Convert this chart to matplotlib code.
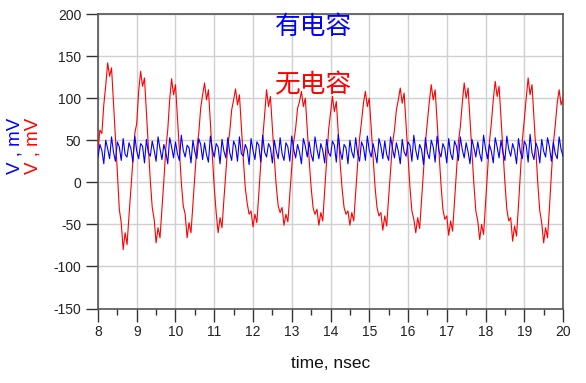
import matplotlib
matplotlib.use('Agg')
import matplotlib.pyplot as plt
import numpy as np

# time grid (nsec), one sample every 0.05 ns
T_START, T_STOP = 8.0, 20.0

# red trace: without capacitor (mV)
v_no_cap = [
    38, 62, 58, 92, 115, 142, 126, 136, 95, 55,
    12, -32, -48, -80, -60, -74, -40, -8, 25, 58,
    70, 108, 132, 114, 124, 82, 42, 2, -30, -44,
    -72, -54, -66, -32, 2, 40, 62, 98, 123, 104,
    116, 78, 38, 0, -28, -38, -66, -48, -60, -26,
    8, 42, 58, 88, 104, 118, 98, 110, 70, 32,
    -6, -36, -60, -42, -54, -20, 12, 44, 60, 86,
    98, 111, 92, 104, 66, 28, -6, -25, -38, -34,
    -53, -38, -48, -14, 22, 52, 80, 110, 90, 102,
    64, 28, -4, -28, -36, -30, -51, -38, -47, -14,
    18, 48, 64, 88, 96, 108, 90, 100, 62, 26,
    -6, -30, -38, -32, -51, -36, -46, -10, 28, 62,
    82, 102, 84, 96, 58, 22, -8, -30, -38, -34,
    -51, -36, -46, -12, 22, 52, 72, 94, 108, 90,
    100, 64, 28, -6, -30, -40, -36, -57, -40, -52,
    -18, 14, 46, 62, 86, 98, 112, 94, 106, 68,
    30, -6, -34, -44, -60, -42, -55, -20, 14, 48,
    72, 96, 116, 98, 110, 72, 34, -2, -32, -44,
    -40, -63, -46, -58, -22, 14, 48, 66, 94, 118,
    100, 112, 74, 36, -2, -34, -46, -68, -50, -62,
    -26, 12, 48, 70, 98, 120, 102, 114, 76, 38,
    0, -32, -46, -42, -70, -52, -64, -28, 12, 50,
    74, 100, 124, 104, 116, 76, 36, -2, -34, -48,
    -72, -54, -66, -30, 10, 46, 68, 94, 110, 92,
    100,
]

# blue trace: with capacitor (mV)
v_cap = [
    30, 45, 38, 22, 50, 40, 28, 54, 36, 25,
    48, 42, 26, 52, 33, 30, 47, 40, 24, 55,
    37, 28, 46, 43, 23, 51, 35, 31, 49, 38,
    25, 54, 40, 27, 45, 36, 22, 53, 42, 29,
    48, 34, 26, 56, 38, 30, 44, 41, 23, 50,
    36, 28, 52, 45, 27, 47, 33, 24, 55, 39,
    30, 46, 42, 22, 51, 37, 29, 53, 35, 26,
    49, 43, 25, 54, 34, 31, 45, 39, 21, 52,
    38, 27, 48, 44, 24, 56, 36, 30, 46, 41,
    23, 50, 37, 28, 53, 34, 26, 47, 42, 25,
    55, 39, 29, 45, 36, 22, 52, 43, 30, 48,
    33, 25, 54, 40, 28, 46, 38, 23, 51, 35,
    31, 49, 44, 24, 57, 37, 27, 45, 41, 22,
    50, 36, 29, 53, 34, 25, 48, 42, 26, 55,
    38, 30, 46, 35, 23, 52, 43, 28, 49, 33,
    26, 54, 40, 29, 47, 37, 22, 51, 36, 31,
    48, 44, 25, 56, 38, 27, 45, 39, 21, 53,
    35, 28, 50, 42, 24, 55, 37, 30, 46, 40,
    23, 52, 34, 27, 49, 43, 26, 54, 39, 29,
    47, 36, 22, 51, 41, 30, 48, 34, 25, 56,
    40, 28, 45, 37, 23, 53, 42, 29, 50, 35,
    26, 55, 39, 31, 46, 38, 22, 52, 36, 28,
    49, 44, 24, 57, 35, 27, 47, 40, 23, 51,
    37, 30, 53, 42, 25, 48, 34, 28, 54, 39,
    31,
]

x_ticks = [8, 9, 10, 11, 12, 13, 14, 15, 16, 17, 18, 19, 20]
y_ticks = [-150, -100, -50, 0, 50, 100, 150, 200]

plt.rcParams['font.family'] = ['Liberation Sans', 'DejaVu Sans']
plt.rcParams['axes.unicode_minus'] = False
CJK = ['Noto Sans CJK SC', 'DejaVu Sans']
AXIS_GRAY = '#555555'

t = np.linspace(T_START, T_STOP, len(v_no_cap))

fig = plt.figure(figsize=(5.86, 3.83), dpi=100)
ax = fig.add_axes([0.1672, 0.1945, 0.7936, 0.7689])

ax.plot(t, v_no_cap, color='#ff0000', lw=0.8, zorder=3)
ax.plot(t, v_cap, color='#0000ff', lw=0.8, zorder=4)

ax.set_xlim(T_START, T_STOP)
ax.set_ylim(-150, 200)
ax.set_xticks(x_ticks)
ax.set_xticks(np.arange(8.5, 20, 1.0), minor=True)
ax.set_yticks(y_ticks)
ax.grid(True, which='major', color='#d0d0d0', lw=1.0, zorder=0)

ax.tick_params(axis='both', which='major', direction='out', length=9,
               width=1.0, color='#333333', labelsize=10,
               labelcolor='#222222', pad=3)
ax.tick_params(axis='x', which='minor', direction='out', length=4.5,
               width=1.0, color='#333333')
for sp in ax.spines.values():
    sp.set_color(AXIS_GRAY)
    sp.set_linewidth(1.2)

ax.set_xlabel('time, nsec', fontsize=12.5, color='#111111', labelpad=12)

# two coloured y labels
fig.text(15.5 / 586, 1 - 146 / 383, 'V , mV', color='#0000ff', fontsize=13.5,
         rotation=90, ha='center', va='center')
fig.text(33.5 / 586, 1 - 146 / 383, 'V , mV', color='#ff0000', fontsize=13.5,
         rotation=90, ha='center', va='center')

ax.text(13.57, 185, '有电容', color='#0000ff', fontsize=18.5, family=CJK,
        ha='center', va='center', zorder=5)
ax.text(13.57, 115, '无电容', color='#ff0000', fontsize=18.5, family=CJK,
        ha='center', va='center', zorder=5)

fig.savefig('out.png', dpi=100)
